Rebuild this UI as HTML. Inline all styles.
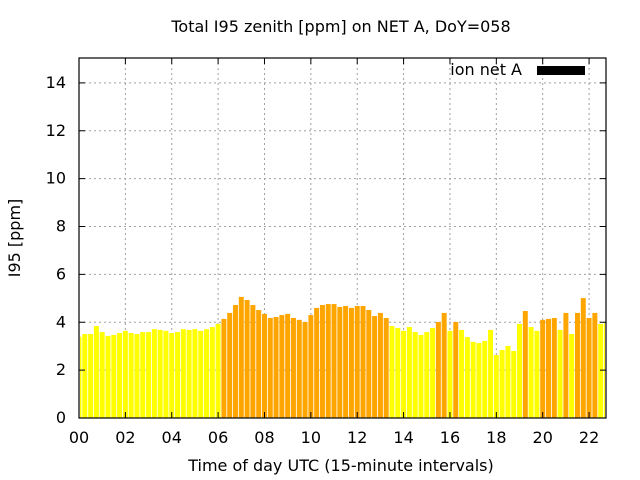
<!DOCTYPE html>
<html><head><meta charset="utf-8"><style>
html,body{margin:0;padding:0;background:#fff;}
svg{display:block;font-family:"DejaVu Sans","Liberation Sans",sans-serif;}
</style></head><body>
<svg id="chart" width="640" height="480" viewBox="0 0 640 480">
<text x="341" y="32" font-size="16" text-anchor="middle">Total I95 zenith [ppm] on NET A, DoY=058</text>
<text x="341" y="471" font-size="16" text-anchor="middle">Time of day UTC (15-minute intervals)</text>
<text transform="translate(20,238) rotate(-90)" font-size="16" text-anchor="middle">I95 [ppm]</text>
<g id="grid"></g><g id="bars"></g><g id="axes"></g>
<g>
<text x="522" y="75" font-size="16" text-anchor="end">ion net A</text>
<rect x="537" y="66" width="48" height="9" fill="#000"/>
</g>
</svg>
<script>
const values = [3.40,3.51,3.51,3.84,3.59,3.43,3.47,3.55,3.64,3.55,3.51,3.59,3.59,3.71,3.68,3.64,3.55,3.59,3.71,3.68,3.71,3.64,3.71,3.80,3.93,4.14,4.39,4.72,5.06,4.93,
4.72,4.51,4.35,4.18,4.22,4.30,4.35,4.18,4.10,4.01,4.30,4.60,4.72,4.76,4.76,4.64,4.68,4.60,4.68,4.68,4.51,4.26,4.39,4.18,3.84,3.76,3.64,3.80,3.59,3.47,
3.59,3.76,4.01,4.39,3.64,4.01,3.68,3.38,3.18,3.13,3.22,3.68,2.63,2.84,3.01,2.80,3.93,4.47,3.80,3.64,4.10,4.14,4.18,3.68,4.39,3.51,4.39,5.01,4.18,4.39,3.93,3.97];
const xTicks = [0,2,4,6,8,10,12,14,16,18,20,22];
const xTickLabels = ["00","02","04","06","08","10","12","14","16","18","20","22"];
const yTicks = [0,2,4,6,8,10,12,14];
const threshold = 4;
const X0=79,X1=606,Y0=418,Y1=58;
const xMin=0,xMax=22.73,yMin=0,yMax=15.04;
const sx=h=>X0+(h-xMin)/(xMax-xMin)*(X1-X0);
const sy=v=>Y0-(v-yMin)/(yMax-yMin)*(Y0-Y1);
const NS="http://www.w3.org/2000/svg";
function mk(tag,attrs,parent){const e=document.createElementNS(NS,tag);for(const k in attrs)e.setAttribute(k,attrs[k]);parent.appendChild(e);return e;}
const grid=document.getElementById('grid'),bars=document.getElementById('bars'),axes=document.getElementById('axes');
xTicks.forEach((t,i)=>{const x=sx(t);
 if(t>0){const l=mk('line',{x1:x,x2:x,y1:Y1,y2:Y0,stroke:'#a0a0a0','stroke-dasharray':'2,3'},grid);
 
 }
 const tk=mk('line',{x1:x,x2:x,y1:Y0,y2:Y0-6,stroke:'#000'},axes);
 
 
 const tk2=mk('line',{x1:x,x2:x,y1:Y1,y2:Y1+6,stroke:'#000'},axes);
 
 
 const tx=mk('text',{x:x,y:443,'font-size':16,'text-anchor':'middle'},axes);tx.textContent=xTickLabels[i];
 
 
});
yTicks.forEach(t=>{const y=sy(t);
 if(t>0){const l=mk('line',{x1:X0,x2:X1,y1:y,y2:y,stroke:'#a0a0a0','stroke-dasharray':'2,3'},grid);
 
 }
 const tk=mk('line',{x1:X0,x2:X0+6,y1:y,y2:y,stroke:'#000'},axes);
 
 
 const tk2=mk('line',{x1:X1,x2:X1-6,y1:y,y2:y,stroke:'#000'},axes);
 
 
 const tx=mk('text',{x:X0-13,y:y+5,'font-size':16,'text-anchor':'end'},axes);tx.textContent=String(t);
 
 
});
const step=sx(0.25)-sx(0),bw=step*0.86;
values.forEach((v,i)=>{const cx=sx(i*0.25);let l=cx-bw/2,r=cx+bw/2;
 l=Math.max(l,X0+1);r=Math.min(r,X1-1);
 const b=mk('rect',{x:l,y:sy(v),width:Math.max(0,r-l),height:Y0-sy(v),fill:v>=threshold?'#ffa500':'#ffff00'},bars);
 
 
});
const bd=mk('rect',{x:X0,y:Y1,width:X1-X0,height:Y0-Y1,fill:'none',stroke:'#000','stroke-width':1.2},axes);


</script>
</body></html>
